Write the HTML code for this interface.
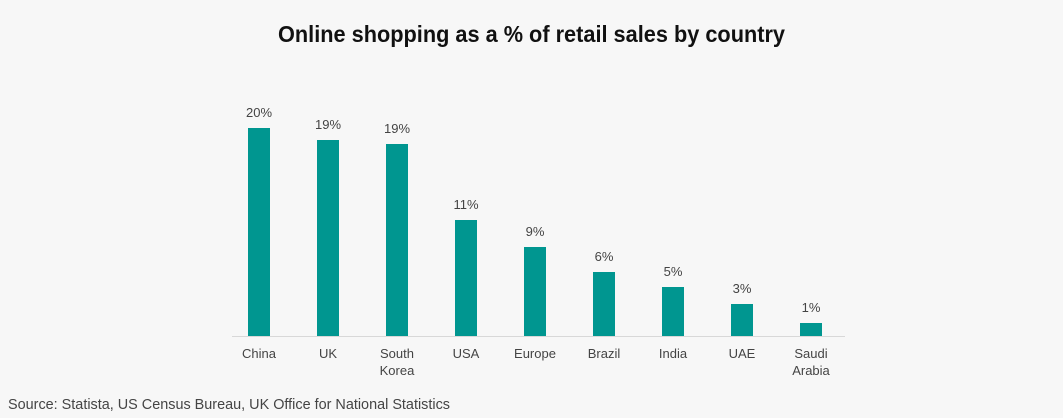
<!DOCTYPE html>
<html><head><style>
body{margin:0;background:#f7f7f7;}
svg{display:block;font-family:"Liberation Sans",sans-serif;}
</style></head><body>
<svg width="1063" height="418" viewBox="0 0 1063 418">
<rect width="1063" height="418" fill="#f7f7f7"/>
<text x="278" y="42" font-size="23" font-weight="bold" fill="#111" textLength="507" lengthAdjust="spacingAndGlyphs">Online shopping as a % of retail sales by country</text>
<line x1="232" y1="336.5" x2="845" y2="336.5" stroke="#d8d8d8" stroke-width="1"/>
<g fill="#009690">
<rect x="248" y="128" width="22" height="208"/>
<rect x="317" y="140" width="22" height="196"/>
<rect x="386" y="144" width="22" height="192"/>
<rect x="455" y="220" width="22" height="116"/>
<rect x="524" y="247" width="22" height="89"/>
<rect x="593" y="272" width="22" height="64"/>
<rect x="662" y="287" width="22" height="49"/>
<rect x="731" y="304" width="22" height="32"/>
<rect x="800" y="323" width="22" height="13"/>
</g>
<g font-size="13" fill="#444" text-anchor="middle">
<text x="259" y="117">20%</text>
<text x="328" y="129">19%</text>
<text x="397" y="133">19%</text>
<text x="466" y="209">11%</text>
<text x="535" y="236">9%</text>
<text x="604" y="261">6%</text>
<text x="673" y="276">5%</text>
<text x="742" y="293">3%</text>
<text x="811" y="312">1%</text>
<text x="259" y="358">China</text>
<text x="328" y="358">UK</text>
<text x="397" y="358">South</text>
<text x="397" y="375">Korea</text>
<text x="466" y="358">USA</text>
<text x="535" y="358">Europe</text>
<text x="604" y="358">Brazil</text>
<text x="673" y="358">India</text>
<text x="742" y="358">UAE</text>
<text x="811" y="358">Saudi</text>
<text x="811" y="375">Arabia</text>
</g>
<text x="8" y="409" font-size="15" fill="#444" textLength="442" lengthAdjust="spacingAndGlyphs">Source: Statista, US Census Bureau, UK Office for National Statistics</text>
</svg>
</body></html>
